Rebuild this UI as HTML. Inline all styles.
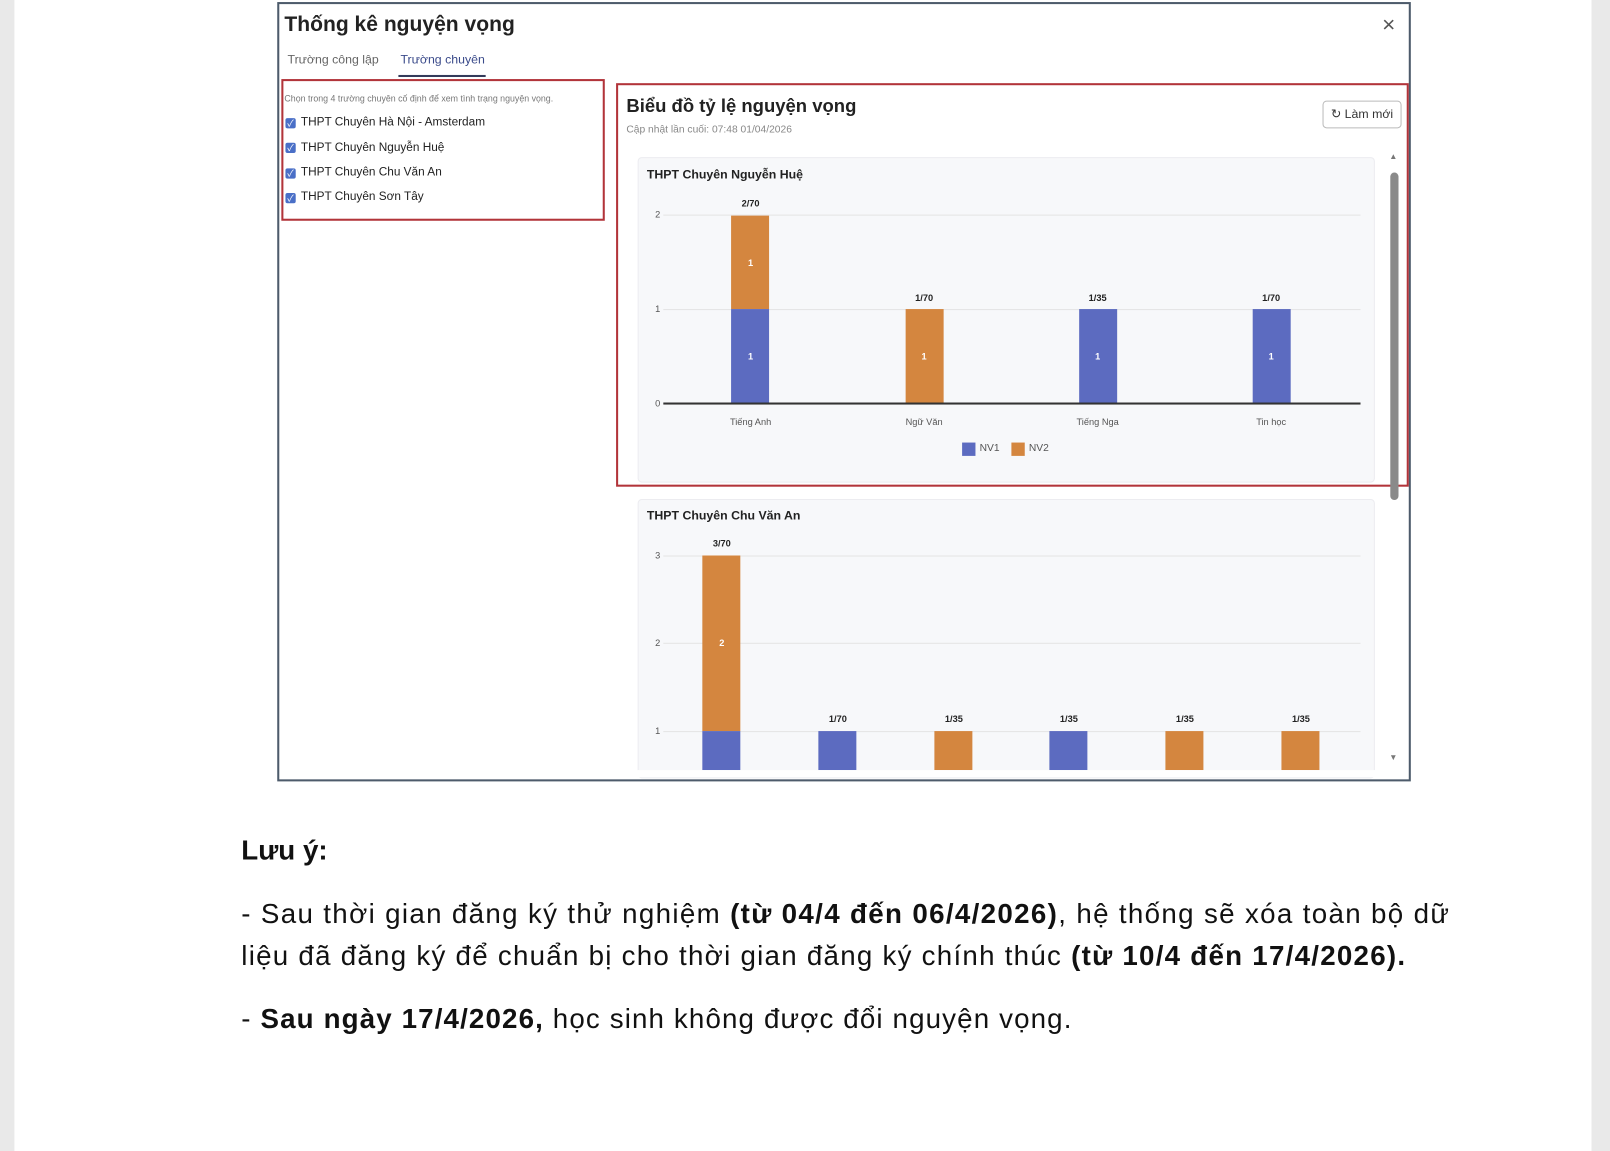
<!DOCTYPE html>
<html><head><meta charset="utf-8">
<style>
html,body{margin:0;padding:0;width:1610px;height:1151px;overflow:hidden;background:#e9e9e9;}
#w{position:absolute;left:0;top:0;width:1568px;height:1121px;transform:scale(1.0268);transform-origin:0 0;font-family:"Liberation Sans","Noto Sans CJK SC",sans-serif;}
.a{position:absolute;white-space:nowrap;}
.t{position:absolute;white-space:nowrap;line-height:20px;height:20px;}
.c{transform:translateX(-50%);}
.cb{position:absolute;width:10px;height:10px;background:#4a6fc7;border-radius:2px;color:#fff;font-size:9px;line-height:10px;text-align:center;}
.blue{background:#5c6bc0;}
.orange{background:#d4863f;}
.bar{position:absolute;width:37px;}
.grid{position:absolute;height:1px;background:#e4e4e4;}
.n{letter-spacing:1.25px;}
</style></head><body><div id="w">
<div class="a" style="left:14px;top:0;width:1536px;height:1121px;background:#fff"></div>
<!-- dialog -->
<div class="a" style="left:270px;top:2px;width:1100px;height:755px;border:2px solid #4d5b6b;background:#fff"></div>
<div class="t" style="left:277px;top:14px;font-size:20.5px;color:#222;font-weight:600">Thống kê nguyện vọng</div>
<div class="t" style="left:1346px;top:14px;font-size:22px;color:#555">×</div>
<div class="t" style="left:280px;top:48px;font-size:12px;color:#666">Trường công lập</div>
<div class="t" style="left:390px;top:48px;font-size:12px;color:#3a4a8a">Trường chuyên</div>
<div class="a" style="left:388px;top:73px;width:85px;height:2px;background:#333a5a"></div>
<div class="a" style="left:274px;top:77px;width:311px;height:134px;border:2px solid #b2343a"></div>
<div class="t" style="left:277px;top:86px;font-size:8.6px;color:#777">Chọn trong 4 trường chuyên cố định để xem tình trạng nguyện vọng.</div>
<div class="cb" style="left:278px;top:115px">✓</div><div class="t" style="left:293px;top:109px;font-size:11.5px;color:#222">THPT Chuyên Hà Nội - Amsterdam</div>
<div class="cb" style="left:278px;top:139px">✓</div><div class="t" style="left:293px;top:134px;font-size:11.5px;color:#222">THPT Chuyên Nguyễn Huệ</div>
<div class="cb" style="left:278px;top:164px">✓</div><div class="t" style="left:293px;top:158px;font-size:11.5px;color:#222">THPT Chuyên Chu Văn An</div>
<div class="cb" style="left:278px;top:188px">✓</div><div class="t" style="left:293px;top:182px;font-size:11.5px;color:#222">THPT Chuyên Sơn Tây</div>

<div class="a" style="left:600px;top:81px;width:768px;height:389px;border:2px solid #b2343a"></div>
<div class="t" style="left:610px;top:93px;font-size:18px;color:#222;font-weight:600">Biểu đồ tỷ lệ nguyện vọng</div>
<div class="t" style="left:610px;top:117px;font-size:10px;color:#888">Cập nhật lần cuối: 07:48 01/04/2026</div>
<div class="a" style="left:1288px;top:98px;width:75px;height:25px;border:1px solid #bbb;border-radius:4px;font-size:12px;line-height:25px;text-align:center;color:#333">↻ Làm mới</div>
<!-- scrollbar -->
<div class="a" style="left:1353px;top:148px;font-size:8px;color:#777">▲</div>
<div class="a" style="left:1354px;top:168px;width:8px;height:319px;background:#8a8a8a;border-radius:4px"></div>
<div class="a" style="left:1353px;top:733px;font-size:8px;color:#777">▼</div>

<!-- card 1 -->
<div class="a" style="left:621px;top:153px;width:716px;height:315px;background:#f7f8fa;border:1px solid #ececf0;border-radius:4px"></div>
<div class="t" style="left:630px;top:160px;font-size:12px;font-weight:bold;color:#222">THPT Chuyên Nguyễn Huệ</div>
<div class="grid" style="left:646px;top:209px;width:679px"></div>
<div class="grid" style="left:646px;top:301px;width:679px"></div>
<div class="a" style="left:646px;top:392px;width:679px;height:2px;background:#333"></div>
<div class="t" style="left:638px;top:199px;font-size:9px;color:#555">2</div>
<div class="t" style="left:638px;top:291px;font-size:9px;color:#555">1</div>
<div class="t" style="left:638px;top:383px;font-size:9px;color:#555">0</div>
<div class="bar orange" style="left:712px;top:210px;height:91px"></div>
<div class="bar blue" style="left:712px;top:301px;height:91px"></div>
<div class="bar orange" style="left:882px;top:301px;height:91px"></div>
<div class="bar blue" style="left:1051px;top:301px;height:91px"></div>
<div class="bar blue" style="left:1220px;top:301px;height:91px"></div>
<div class="t c" style="left:731px;top:246px;font-size:9px;color:#fff;font-weight:bold">1</div>
<div class="t c" style="left:731px;top:337px;font-size:9px;color:#fff;font-weight:bold">1</div>
<div class="t c" style="left:900px;top:337px;font-size:9px;color:#fff;font-weight:bold">1</div>
<div class="t c" style="left:1069px;top:337px;font-size:9px;color:#fff;font-weight:bold">1</div>
<div class="t c" style="left:1238px;top:337px;font-size:9px;color:#fff;font-weight:bold">1</div>
<div class="t c" style="left:731px;top:188px;font-size:9px;font-weight:bold;color:#222">2/70</div>
<div class="t c" style="left:900px;top:280px;font-size:9px;font-weight:bold;color:#222">1/70</div>
<div class="t c" style="left:1069px;top:280px;font-size:9px;font-weight:bold;color:#222">1/35</div>
<div class="t c" style="left:1238px;top:280px;font-size:9px;font-weight:bold;color:#222">1/70</div>
<div class="t c" style="left:731px;top:401px;font-size:9px;color:#555">Tiếng Anh</div>
<div class="t c" style="left:900px;top:401px;font-size:9px;color:#555">Ngữ Văn</div>
<div class="t c" style="left:1069px;top:401px;font-size:9px;color:#555">Tiếng Nga</div>
<div class="t c" style="left:1238px;top:401px;font-size:9px;color:#555">Tin học</div>
<div class="a blue" style="left:937px;top:431px;width:13px;height:13px"></div>
<div class="t" style="left:954px;top:427px;font-size:10px;color:#555">NV1</div>
<div class="a orange" style="left:985px;top:431px;width:13px;height:13px"></div>
<div class="t" style="left:1002px;top:427px;font-size:10px;color:#555">NV2</div>

<!-- card 2 -->
<div class="a" style="left:621px;top:486px;width:716px;height:270px;background:#f7f8fa;border:1px solid #ececf0;border-radius:4px"></div>
<div class="t" style="left:630px;top:492px;font-size:12px;font-weight:bold;color:#222">THPT Chuyên Chu Văn An</div>
<div class="grid" style="left:646px;top:541px;width:679px"></div>
<div class="grid" style="left:646px;top:626px;width:679px"></div>
<div class="grid" style="left:646px;top:712px;width:679px"></div>
<div class="t" style="left:638px;top:531px;font-size:9px;color:#555">3</div>
<div class="t" style="left:638px;top:616px;font-size:9px;color:#555">2</div>
<div class="t" style="left:638px;top:702px;font-size:9px;color:#555">1</div>
<div class="bar orange" style="left:684px;top:541px;height:171px"></div>
<div class="bar blue" style="left:684px;top:712px;height:38px"></div>
<div class="bar blue" style="left:797px;top:712px;height:38px"></div>
<div class="bar orange" style="left:910px;top:712px;height:38px"></div>
<div class="bar blue" style="left:1022px;top:712px;height:38px"></div>
<div class="bar orange" style="left:1135px;top:712px;height:38px"></div>
<div class="bar orange" style="left:1248px;top:712px;height:38px"></div>
<div class="t c" style="left:703px;top:616px;font-size:9px;color:#fff;font-weight:bold">2</div>
<div class="t c" style="left:703px;top:519px;font-size:9px;font-weight:bold;color:#222">3/70</div>
<div class="t c" style="left:816px;top:690px;font-size:9px;font-weight:bold;color:#222">1/70</div>
<div class="t c" style="left:929px;top:690px;font-size:9px;font-weight:bold;color:#222">1/35</div>
<div class="t c" style="left:1041px;top:690px;font-size:9px;font-weight:bold;color:#222">1/35</div>
<div class="t c" style="left:1154px;top:690px;font-size:9px;font-weight:bold;color:#222">1/35</div>
<div class="t c" style="left:1267px;top:690px;font-size:9px;font-weight:bold;color:#222">1/35</div>
<div class="a" style="left:598px;top:750px;width:770px;height:7px;background:#fff"></div>

<!-- notes -->
<div class="a" style="left:235px;top:810px;font-size:27px;line-height:36px;font-weight:bold;color:#111">Lưu ý:</div>
<div class="a n" style="left:235px;top:872px;font-size:27px;line-height:36px;color:#111;letter-spacing:1.3px">- Sau thời gian đăng ký thử nghiệm <b>(từ 04/4 đến 06/4/2026)</b>, hệ thống sẽ xóa toàn bộ dữ</div>
<div class="a n" style="left:235px;top:913px;font-size:27px;line-height:36px;color:#111;letter-spacing:1.22px">liệu đã đăng ký để chuẩn bị cho thời gian đăng ký chính thúc <b>(từ 10/4 đến 17/4/2026).</b></div>
<div class="a n" style="left:235px;top:974px;font-size:27px;line-height:36px;color:#111;letter-spacing:1.1px">- <b>Sau ngày 17/4/2026,</b> học sinh không được đổi nguyện vọng.</div>
</div></body></html>
